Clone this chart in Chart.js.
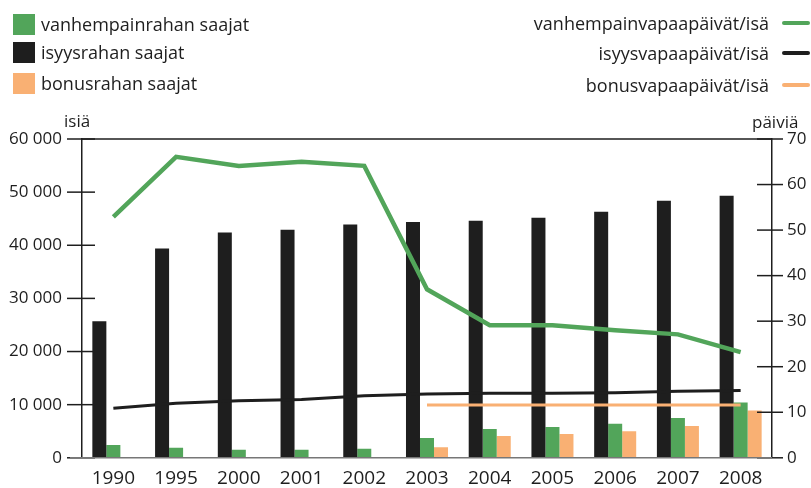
<!DOCTYPE html>
<html>
<head>
<meta charset="utf-8">
<script src="https://cdn.jsdelivr.net/npm/chart.js@4.4.1/dist/chart.umd.min.js"></script>
<style>
  html, body { margin: 0; padding: 0; background: #fff; }
  #wrap { position: relative; width: 811px; height: 488px; font-family: "Open Sans", "Noto Sans", sans-serif; color: #1e1e1e; }
  #chart { position: absolute; left: 0; top: 0; }
  .leg { position: absolute; font-size: 18px; line-height: 22px; white-space: nowrap; }
  .sw { position: absolute; width: 22px; height: 21px; }
  .ln { position: absolute; width: 28px; height: 4px; border-radius: 2px; }
  .axt { position: absolute; font-size: 17px; }
</style>
</head>
<body>
<div id="wrap">
  <canvas id="chart" width="811" height="488"></canvas>
  <div id="legendLeft"></div>
  <div id="legendRight"></div>
  <div class="axt" style="left:64px; top:109px;">isiä</div>
  <div class="axt" style="left:752px; top:110px;">päiviä</div>
</div>
<script>
const years = ["1990", "1995", "2000", "2001", "2002", "2003", "2004", "2005", "2006", "2007", "2008"];

// recipients (left axis)
const isyysrahaSaajat = [25700, 39400, 42400, 42900, 43900, 44400, 44600, 45200, 46300, 48400, 49300];
const vanhempainrahaSaajat = [2400, 1900, 1500, 1500, 1700, 3750, 5400, 5800, 6400, 7500, 10400];
const bonusrahaSaajat = [null, null, null, null, null, 2000, 4100, 4500, 5000, 6000, 8900];

// days per father (right axis)
const vanhempainvapaaPaivat = [52.9, 66.1, 64.1, 65.0, 64.1, 37.0, 29.1, 29.1, 28.0, 27.1, 23.2];
const isyysvapaaPaivat = [10.9, 12.0, 12.5, 12.8, 13.6, 14.0, 14.2, 14.2, 14.3, 14.6, 14.8];
const bonusvapaaPaivat = [null, null, null, null, null, 11.6, 11.6, 11.6, 11.6, 11.6, 11.6];

const leftTicks = ["0", "10 000", "20 000", "30 000", "40 000", "50 000", "60 000"];

const COLORS = {
  green: "#52a55a",
  black: "#1e1e1e",
  orange: "#f9b073",
};

const FONT = "'Open Sans', 'Noto Sans', sans-serif";

document.getElementById("legendLeft").innerHTML = [
  ["vanhempainrahan saajat", COLORS.green, 14],
  ["isyysrahan saajat", COLORS.black, 42],
  ["bonusrahan saajat", COLORS.orange, 73],
].map(([t, c, y]) => `
  <div class="sw" style="left:13px; top:${y}px; background:${c}"></div>
  <div class="leg" style="left:41px; top:${y - 1}px;">${t}</div>
`).join("");

document.getElementById("legendRight").innerHTML = [
  ["vanhempainvapaapäivät/isä", COLORS.green, 12],
  ["isyysvapaapäivät/isä", COLORS.black, 42],
  ["bonusvapaapäivät/isä", COLORS.orange, 74],
].map(([t, c, y]) => `
  <div class="leg" style="right:${811 - 769}px; top:${y}px;">${t}</div>
  <div class="ln" style="left:782px; top:${y + 9}px; background:${c}"></div>
`).join("");

// tick marks crossing both axes, plus top & bottom frame lines
const axisDecor = {
  id: "axisDecor",
  afterDraw(chart) {
    const { ctx, chartArea: a, scales } = chart;
    ctx.save();
    ctx.strokeStyle = "#1e1e1e";
    ctx.lineWidth = 1.5;
    ctx.beginPath();
    ctx.moveTo(a.left, a.top);
    ctx.lineTo(a.right, a.top);
    ctx.stroke();
    scales.y.ticks.forEach((t) => {
      const py = scales.y.getPixelForValue(t.value);
      ctx.beginPath();
      ctx.moveTo(a.left - 15, py);
      ctx.lineTo(a.left + 13, py);
      ctx.stroke();
    });
    scales.y1.ticks.forEach((t) => {
      const py = scales.y1.getPixelForValue(t.value);
      ctx.beginPath();
      ctx.moveTo(a.right - 15, py);
      ctx.lineTo(a.right + 11, py);
      ctx.stroke();
    });
    ctx.strokeStyle = "#777";
    ctx.beginPath();
    ctx.moveTo(a.left - 12, a.bottom);
    ctx.lineTo(a.right, a.bottom);
    ctx.stroke();
    ctx.restore();
  },
};

const barBase = { yAxisID: "y", order: 2, categoryPercentage: 0.67, barPercentage: 1.0, borderWidth: 0 };
const lineBase = { type: "line", yAxisID: "y1", order: 0, pointRadius: 0, tension: 0, fill: false, borderCapStyle: "butt" };

new Chart(document.getElementById("chart"), {
  type: "bar",
  data: {
    labels: years,
    datasets: [
      { ...barBase, label: "isyysrahan saajat", data: isyysrahaSaajat, backgroundColor: COLORS.black },
      { ...barBase, label: "vanhempainrahan saajat", data: vanhempainrahaSaajat, backgroundColor: COLORS.green },
      { ...barBase, label: "bonusrahan saajat", data: bonusrahaSaajat, backgroundColor: COLORS.orange },
      { ...lineBase, label: "vanhempainvapaapäivät/isä", data: vanhempainvapaaPaivat, borderColor: COLORS.green, borderWidth: 4.5 },
      { ...lineBase, label: "isyysvapaapäivät/isä", data: isyysvapaaPaivat, borderColor: COLORS.black, borderWidth: 3 },
      { ...lineBase, label: "bonusvapaapäivät/isä", data: bonusvapaaPaivat, borderColor: COLORS.orange, borderWidth: 3 },
    ],
  },
  options: {
    responsive: false,
    animation: false,
    layout: { padding: { top: 139, left: 0, right: 0, bottom: 0 } },
    plugins: { legend: { display: false }, tooltip: { enabled: false } },
    scales: {
      x: {
        grid: { display: false, drawTicks: false },
        border: { display: false },
        ticks: { color: "#1e1e1e", font: { family: FONT, size: 19 }, padding: 9, maxRotation: 0 },
        afterFit: (s) => { s.height = 29; },
      },
      y: {
        position: "left",
        min: 0,
        max: 60000,
        grid: { display: false, drawTicks: false },
        border: { display: true, color: "#1e1e1e", width: 1.5 },
        ticks: {
          stepSize: 10000,
          color: "#1e1e1e",
          padding: 20,
          font: { family: FONT, size: 17 },
          callback: (v) => leftTicks[v / 10000],
        },
        afterFit: (s) => { s.width = 82; },
      },
      y1: {
        position: "right",
        min: 0,
        max: 70,
        grid: { display: false, drawTicks: false },
        border: { display: true, color: "#1e1e1e", width: 1.5 },
        ticks: { stepSize: 10, color: "#1e1e1e", padding: 15, font: { family: FONT, size: 17 } },
        afterFit: (s) => { s.width = 39; },
      },
    },
  },
  plugins: [axisDecor],
});
</script>
</body>
</html>
